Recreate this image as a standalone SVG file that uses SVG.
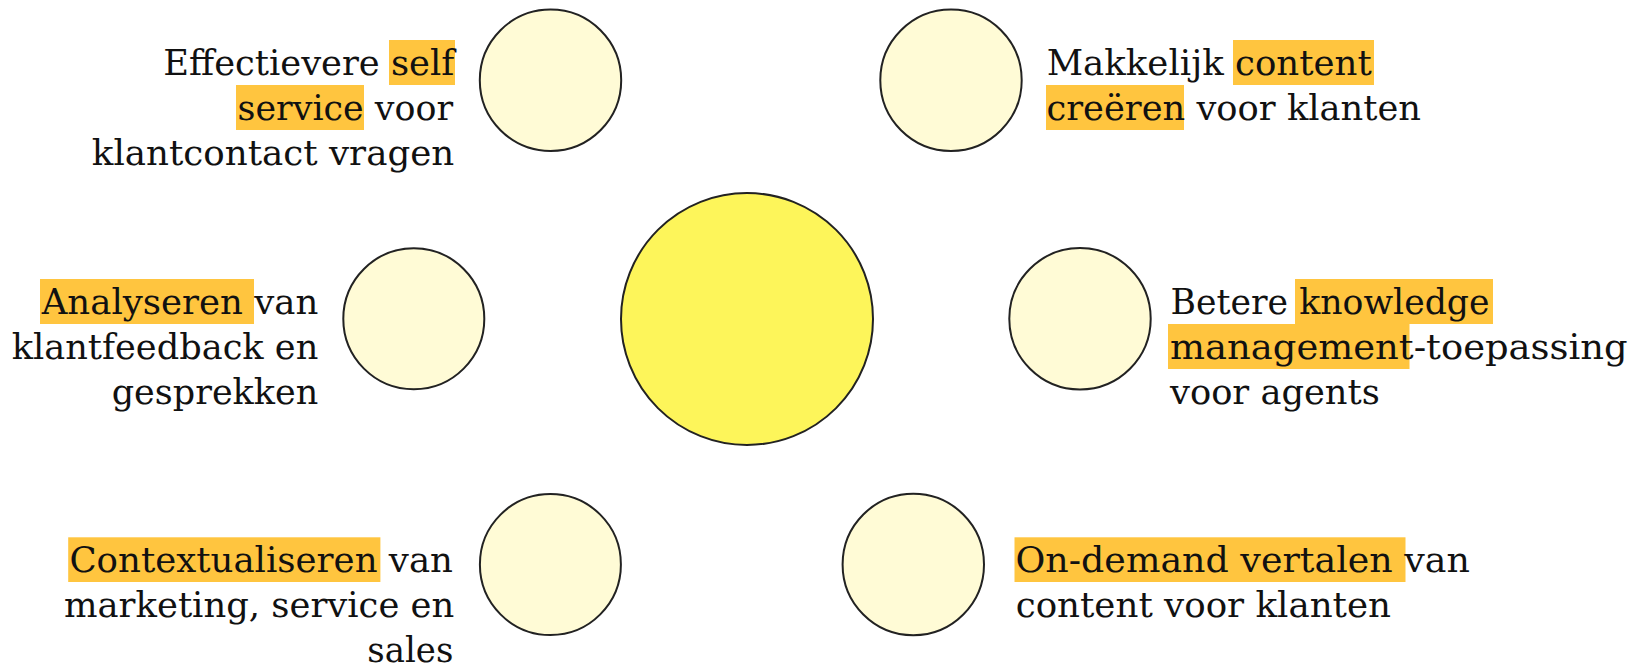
<svg xmlns="http://www.w3.org/2000/svg" width="1637" height="664" viewBox="0 0 1637 664">
<style>
.bg{fill:#ffffff}
.node{fill:#FFFBD6;stroke:#222222;stroke-width:2}
.core{fill:#FDF55A;stroke:#222222;stroke-width:2}
.hl{fill:#FFC53F}
.t{font-family:"DejaVu Serif","Liberation Serif",serif;font-size:36px;fill:#111111}
</style>
<rect class="bg" x="0" y="0" width="1637" height="664"/>
<g id="connectors"></g>
<g id="center">
<circle class="core" cx="747" cy="319" r="126"/>
</g>
<g id="node-self-service">
<circle class="node" cx="550.5" cy="80.2" r="70.7"/>
<rect class="hl" x="389" y="40" width="66" height="45"/>
<rect class="hl" x="236" y="85" width="128" height="45"/>
<text class="t" x="163.3" y="75" textLength="291" lengthAdjust="spacingAndGlyphs">Effectievere self</text>
<text class="t" x="237.6" y="120" textLength="215.5" lengthAdjust="spacingAndGlyphs">service voor</text>
<text class="t" x="91.8" y="165" textLength="362.5" lengthAdjust="spacingAndGlyphs">klantcontact vragen</text>
</g>
<g id="node-content">
<circle class="node" cx="951" cy="80.2" r="70.7"/>
<rect class="hl" x="1233" y="40" width="141" height="45"/>
<rect class="hl" x="1046" y="85" width="138" height="45"/>
<text class="t" x="1046.7" y="75" textLength="325" lengthAdjust="spacingAndGlyphs">Makkelijk content</text>
<text class="t" x="1046.5" y="120" textLength="374.5" lengthAdjust="spacingAndGlyphs">creëren voor klanten</text>
</g>
<g id="node-analyseren">
<circle class="node" cx="413.8" cy="318.8" r="70.5"/>
<rect class="hl" x="40" y="279" width="214" height="45"/>
<text class="t" x="41.7" y="313.5" textLength="276.6" lengthAdjust="spacingAndGlyphs">Analyseren van</text>
<text class="t" x="11.7" y="359" textLength="306.6" lengthAdjust="spacingAndGlyphs">klantfeedback en</text>
<text class="t" x="111.7" y="404" textLength="206.6" lengthAdjust="spacingAndGlyphs">gesprekken</text>
</g>
<g id="node-knowledge">
<circle class="node" cx="1080" cy="318.8" r="70.7"/>
<rect class="hl" x="1295" y="279" width="198" height="45"/>
<rect class="hl" x="1168" y="324" width="241.5" height="45"/>
<text class="t" x="1170.6" y="314" textLength="319" lengthAdjust="spacingAndGlyphs">Betere knowledge</text>
<text class="t" x="1170" y="359" textLength="457.7" lengthAdjust="spacingAndGlyphs">management-toepassing</text>
<text class="t" x="1170" y="404" textLength="209.8" lengthAdjust="spacingAndGlyphs">voor agents</text>
</g>
<g id="node-contextualiseren">
<circle class="node" cx="550.4" cy="564.5" r="70.5"/>
<rect class="hl" x="68.2" y="537.3" width="312.2" height="44.7"/>
<text class="t" x="69.4" y="572" textLength="383.6" lengthAdjust="spacingAndGlyphs">Contextualiseren van</text>
<text class="t" x="64" y="617" textLength="390.3" lengthAdjust="spacingAndGlyphs">marketing, service en</text>
<text class="t" x="367.3" y="662" textLength="86" lengthAdjust="spacingAndGlyphs">sales</text>
</g>
<g id="node-vertalen">
<circle class="node" cx="913.3" cy="564.5" r="70.7"/>
<rect class="hl" x="1014.5" y="537.3" width="391" height="44.7"/>
<text class="t" x="1015.5" y="572" textLength="454.5" lengthAdjust="spacingAndGlyphs">On-demand vertalen van</text>
<text class="t" x="1015.7" y="617" textLength="375.3" lengthAdjust="spacingAndGlyphs">content voor klanten</text>
</g>
</svg>
